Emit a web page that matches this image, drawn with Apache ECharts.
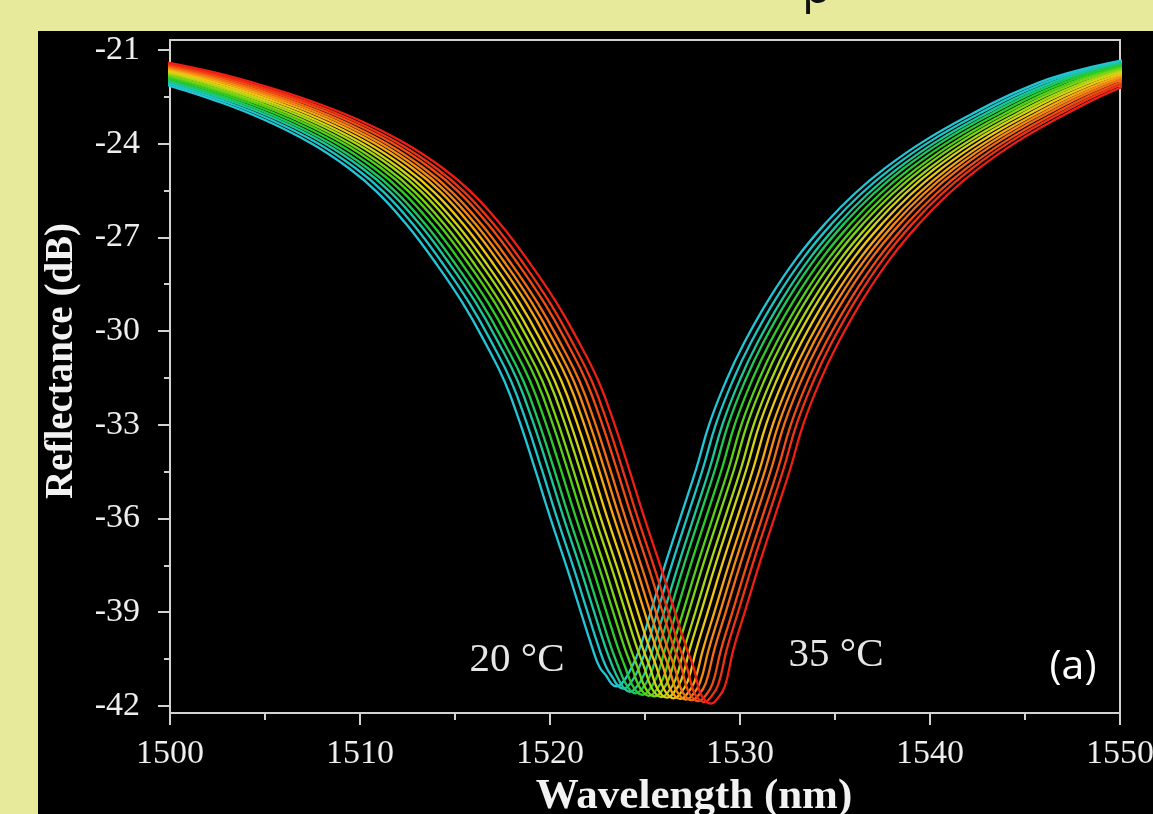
<!DOCTYPE html>
<html>
<head>
<meta charset="utf-8">
<script src="https://cdn.jsdelivr.net/npm/echarts@6/dist/echarts.min.js"></script>
<style>
html,body{margin:0;padding:0;background:#e7e99b;overflow:hidden;}
#chart{width:1153px;height:814px;}
</style>
</head>
<body>
<div id="chart"></div>
<script>
// ---- data ----
const temperatures = [20,21,22,23,24,25,26,27,28,29,30,31,32,33,34,35];
// wavelength of each dip (nm)
const dipCentres = [1523.4,1523.75,1524.1,1524.4,1524.75,1525.1,1525.4,1525.75,1526.05,1526.4,1526.75,1527.05,1527.35,1527.7,1528.0,1528.35];
// reflectance at the bottom of each dip (dB)
const dipDepths = [-41.38,-41.45,-41.55,-41.6,-41.65,-41.68,-41.7,-41.72,-41.74,-41.76,-41.78,-41.8,-41.82,-41.85,-41.88,-41.93];
// dip flanks: offset from dip wavelength (nm) and reflectance (dB)
const flankOffsets = [-28.5,-26.0,-23.4,-21.0,-18.5,-16.0,-14.0,-12.5,-11.0,-9.5,-8.0,-6.7,-5.8,-5.0,-4.2,-3.4,-2.5,-1.8,-1.2,-0.8,
                      1.3,1.9,2.7,3.5,4.3,5.0,5.9,6.8,8.1,9.6,11.1,12.6,14.2,16.2,18.8,21.3,23.8,26.8];
const flankDb = [-21.40,-21.72,-22.15,-22.62,-23.22,-23.98,-24.78,-25.55,-26.55,-27.75,-29.1,-30.5,-31.6,-32.9,-34.4,-35.95,-37.6,-38.95,-40.1,-40.75,
                 -40.2,-39.0,-37.4,-35.9,-34.4,-32.95,-31.55,-30.4,-29.0,-27.65,-26.55,-25.62,-24.8,-23.95,-23.05,-22.3,-21.75,-21.32];
// dip floor: offset (nm) and height above the dip bottom (dB)
const floorOffsets = [-0.45,-0.15,0.1,0.45,0.85];
const floorRise = [0.35,0.08,0.0,0.15,0.55];
// axis ticks
const xTicks = [1500,1510,1520,1530,1540,1550];
const yMajorTicks = [-42,-39,-36,-33,-30,-27,-24,-21];
const yMinorTicks = [-40.5,-37.5,-34.5,-31.5,-28.5,-25.5,-22.5];

const lineColours = ['#22c6d6','#1fc4c4','#1cc79a','#1fc85a','#2ccb2c','#52d01a','#7cd414','#a6d614',
                     '#cfd414','#ecc814','#f4a814','#f48a14','#f26c14','#f04e14','#ee3414','#ee1e14'];

function curve(i){
  const c = dipCentres[i], d = dipDepths[i];
  const pts = [];
  flankOffsets.forEach((o,k)=>{ if(o<0) pts.push([c+o, flankDb[k]]); });
  floorOffsets.forEach((o,k)=>{ pts.push([c+o, d+floorRise[k]]); });
  flankOffsets.forEach((o,k)=>{ if(o>0) pts.push([c+o, flankDb[k]]); });
  return pts;
}

const series = temperatures.map((t,i)=>({
  name: t + ' °C',
  type: 'line',
  data: curve(i),
  showSymbol: false,
  smooth: 0.45,
  lineStyle: {color: lineColours[i], width: 2.3},
  clip: true,
  z: 2 + i
}));

const chart = echarts.init(document.getElementById('chart'));
const axisCol = '#d2d2d2';
const serif = '"Liberation Serif", "DejaVu Serif", serif';
chart.setOption({
  backgroundColor: '#e7e99b',
  animation: false,
  grid: {left: 170, right: 33, top: 40, bottom: 101, show: true, borderColor: axisCol, borderWidth: 2,
         backgroundColor: 'transparent', outerBoundsMode: 'none', containLabel: false},
  xAxis: {
    type: 'value', min: 1500, max: 1550, interval: 10,
    axisLine: {lineStyle: {color: axisCol, width: 2}},
    axisTick: {show: true, inside: false, length: 12, lineStyle: {color: axisCol, width: 2}},
    minorTick: {show: true, splitNumber: 2, length: 7, lineStyle: {color: axisCol, width: 2}},
    axisLabel: {color: '#eeeeee', fontFamily: serif, fontSize: 34, margin: 24, showMaxLabel: true, showMinLabel: true,
                customValues: xTicks, formatter: v => String(v)},
    splitLine: {show: false}
  },
  yAxis: [{
    type: 'value', min: -42.23, max: -20.68,
    axisLine: {show: true, lineStyle: {color: axisCol, width: 2}},
    axisTick: {show: true, inside: false, length: 12, customValues: yMajorTicks, lineStyle: {color: axisCol, width: 2}},
    axisLabel: {color: '#eeeeee', fontFamily: serif, fontSize: 34, margin: 30, customValues: yMajorTicks, formatter: v => String(v)},
    splitLine: {show: false}
  },{
    type: 'value', min: -42.23, max: -20.68, position: 'left',
    axisLine: {show: false},
    axisTick: {show: true, inside: false, length: 6, customValues: yMinorTicks, lineStyle: {color: axisCol, width: 2}},
    axisLabel: {show: false},
    splitLine: {show: false}
  }],
  graphic: [
    {type: 'rect', z: -10, silent: true, shape: {x: 38, y: 31, width: 1115, height: 783}, style: {fill: '#000000'}},
    {type: 'text', z: 100, style: {text: 'p', x: 802, y: -11, fontFamily: '"Open Sans", sans-serif', fontSize: 48, fill: '#111', align: 'left', verticalAlign: 'middle'}},
    {type: 'text', z: 100, x: 62, y: 361, rotation: Math.PI / 2,
     style: {text: 'Reflectance (dB)', x: 0, y: 0, fontFamily: serif, fontWeight: 'bold', fontSize: 39, fill: '#f2f2f2', align: 'center', verticalAlign: 'middle'}},
    {type: 'text', z: 100, style: {text: 'Wavelength (nm)', x: 694, y: 797, fontFamily: serif, fontWeight: 'bold', fontSize: 43, fill: '#f2f2f2', align: 'center', verticalAlign: 'middle'}},
    {type: 'text', z: 100, style: {text: '20 °C', x: 517, y: 660, fontFamily: serif, fontSize: 41, fill: '#e6e6e6', align: 'center', verticalAlign: 'middle'}},
    {type: 'text', z: 100, style: {text: '35 °C', x: 836, y: 655, fontFamily: serif, fontSize: 41, fill: '#e6e6e6', align: 'center', verticalAlign: 'middle'}},
    {type: 'text', z: 100, style: {text: '(a)', x: 1073, y: 667, fontFamily: '"Open Sans", sans-serif', fontSize: 41, fill: '#ffffff', align: 'center', verticalAlign: 'middle'}}
  ],
  series: series
});
</script>
</body>
</html>
